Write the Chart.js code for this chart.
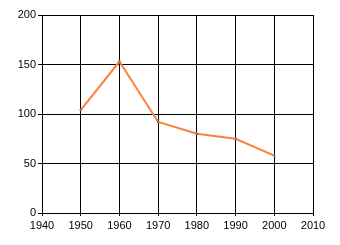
<!DOCTYPE html>
<html>
<head>
<meta charset="utf-8">
<script src="https://cdn.jsdelivr.net/npm/chart.js@4/dist/chart.umd.min.js"></script>
<style>
    html, body { margin: 0; padding: 0; background: #fff; }
    #wrap { width: 340px; height: 245px; }
</style>
</head>
<body>
<div id="wrap"><canvas id="chart" width="340" height="245"></canvas></div>
<script>
// Chart data
const years = [1950, 1960, 1970, 1980, 1990, 2000];
const values = [104, 153, 92, 80, 75, 58];
const xTicks = [1940, 1950, 1960, 1970, 1980, 1990, 2000, 2010];
const yTicks = [0, 50, 100, 150, 200];

const points = years.map((y, i) => ({ x: y, y: values[i] }));
const tickFont = { family: 'Liberation Sans, Arial, sans-serif', size: 11 };

const ctx = document.getElementById('chart').getContext('2d');
new Chart(ctx, {
    type: 'line',
    data: {
        datasets: [{
            data: points,
            borderColor: 'rgb(255,127,60)',
            borderWidth: 2,
            tension: 0,
            pointRadius: 1.2,
            pointBackgroundColor: '#777',
            pointBorderColor: '#777',
            pointBorderWidth: 0
        }]
    },
    options: {
        responsive: false,
        animation: false,
        layout: { padding: { top: 15, right: 27, left: 0, bottom: 0 } },
        plugins: { legend: { display: false }, tooltip: { enabled: false } },
        scales: {
            x: {
                type: 'linear',
                min: xTicks[0],
                max: xTicks[xTicks.length - 1],
                afterBuildTicks: s => { s.ticks = xTicks.map(v => ({ value: v })); },
                afterFit: s => { s.height = 32; },
                grid: { color: '#000', lineWidth: 1, tickLength: 3 },
                border: { color: '#000', width: 1 },
                ticks: { color: '#000', font: tickFont, padding: 3, maxRotation: 0, callback: v => String(v) }
            },
            y: {
                min: yTicks[0],
                max: yTicks[yTicks.length - 1],
                afterBuildTicks: s => { s.ticks = yTicks.map(v => ({ value: v })); },
                afterFit: s => { s.width = 42; },
                grid: { color: '#000', lineWidth: 1, tickLength: 4 },
                border: { color: '#000', width: 1 },
                ticks: { color: '#000', font: tickFont, padding: 2 }
            }
        }
    }
});
</script>
</body>
</html>
